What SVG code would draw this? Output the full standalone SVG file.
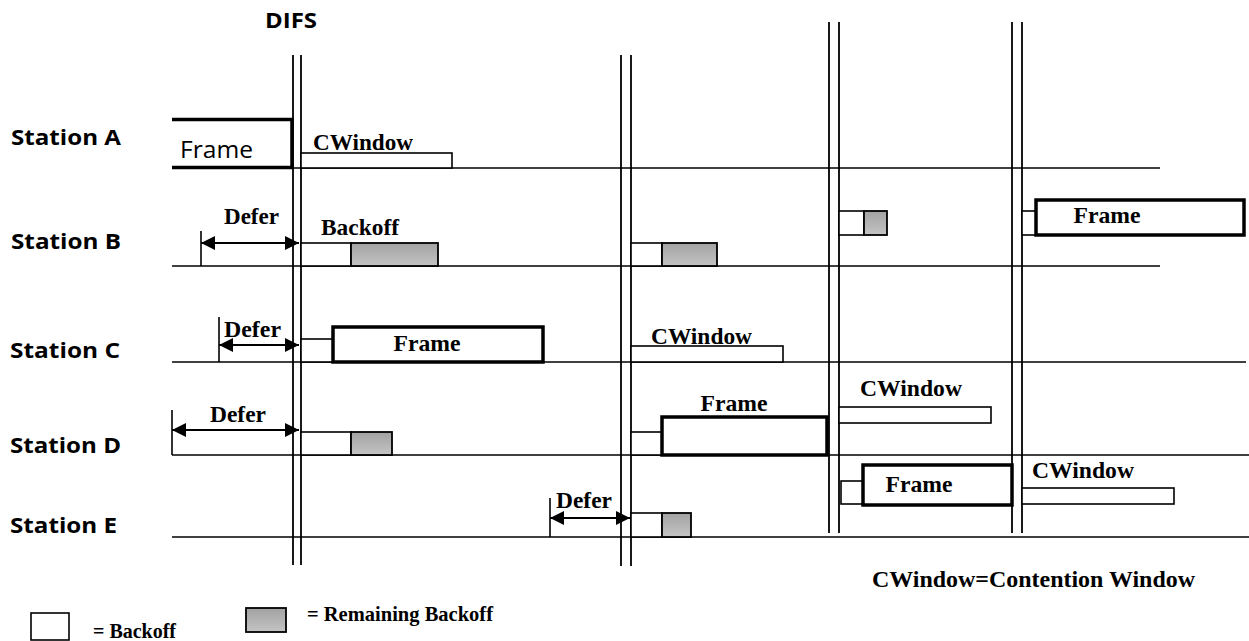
<svg xmlns="http://www.w3.org/2000/svg" width="1249" height="641" viewBox="0 0 1249 641">
<style>
.bg{fill:#ffffff}
.ln{stroke:#000;stroke-width:1.6;fill:none}
.vl{stroke:#000;stroke-width:1.8;fill:none}
.bo{fill:#fff;stroke:#000;stroke-width:1.6}
.rb{fill:url(#gray);stroke:#000;stroke-width:1.8}
.fr{fill:#fff;stroke:#000;stroke-width:3.5}
.st{font-family:"Open Sans","Liberation Sans",sans-serif;font-weight:bold;font-size:22px;fill:#000}
.tb{font-family:"Liberation Serif","Times New Roman",serif;font-weight:bold;font-size:23px;fill:#000}
.lg{font-family:"Liberation Serif","Times New Roman",serif;font-weight:bold;font-size:22px;fill:#000}
.ar{stroke:#000;stroke-width:2.2;fill:none;marker-start:url(#ah);marker-end:url(#ah)}
</style>
<defs>
<linearGradient id="gray" x1="0" y1="0" x2="0" y2="1">
<stop offset="0" stop-color="#a2a2a2"/>
<stop offset="1" stop-color="#c4c4c4"/>
</linearGradient>
<marker id="ah" markerUnits="userSpaceOnUse" markerWidth="15" markerHeight="15" refX="14" refY="7.5" orient="auto-start-reverse">
<path d="M0,0.5 L14,7.5 L0,14.5 z" fill="#000"/>
</marker>
</defs>
<rect class="bg" x="0" y="0" width="1249" height="641"/>

<g id="difs-lines">
<text class="st" x="265" y="28" textLength="52" lengthAdjust="spacingAndGlyphs">DIFS</text>
<line class="vl" x1="293" y1="55" x2="293" y2="565"/>
<line class="vl" x1="301" y1="55" x2="301" y2="565"/>
<line class="vl" x1="621" y1="55" x2="621" y2="566"/>
<line class="vl" x1="631" y1="55" x2="631" y2="566"/>
<line class="vl" x1="829" y1="22" x2="829" y2="533"/>
<line class="vl" x1="839" y1="22" x2="839" y2="533"/>
<line class="vl" x1="1012" y1="22" x2="1012" y2="533"/>
<line class="vl" x1="1022" y1="22" x2="1022" y2="533"/>
</g>

<g id="station-a">
<text class="st" x="11" y="145" textLength="110" lengthAdjust="spacingAndGlyphs">Station A</text>
<line class="ln" x1="172" y1="168" x2="1160" y2="168"/>
<path d="M172,119.5 H292 V167.5 H172" fill="none" stroke="#000" stroke-width="3.5"/>
<text x="180" y="158" font-family="'Open Sans','Liberation Sans',sans-serif" font-size="24" textLength="73" lengthAdjust="spacingAndGlyphs">Frame</text>
<rect class="bo" x="301" y="153" width="151" height="15"/>
<text class="tb" x="313" y="150" textLength="100" lengthAdjust="spacingAndGlyphs">CWindow</text>
</g>

<g id="station-b">
<text class="st" x="11" y="249" textLength="110" lengthAdjust="spacingAndGlyphs">Station B</text>
<line class="ln" x1="172" y1="266" x2="1160" y2="266"/>
<line class="ln" x1="201" y1="231" x2="201" y2="266"/>
<text class="tb" x="224" y="224" textLength="55" lengthAdjust="spacingAndGlyphs">Defer</text>
<rect class="bo" x="301" y="243" width="50" height="23"/>
<rect class="rb" x="351" y="243" width="87" height="23"/>
<text class="tb" x="321" y="235" textLength="78" lengthAdjust="spacingAndGlyphs">Backoff</text>
<rect class="bo" x="631" y="243" width="31" height="23"/>
<rect class="rb" x="662" y="243" width="55" height="23"/>
<rect class="bo" x="839" y="211" width="25" height="24"/>
<rect class="rb" x="864" y="211" width="23" height="24"/>
<rect class="bo" x="1022" y="211" width="14" height="24"/>
<rect class="fr" x="1036" y="200" width="208" height="35"/>
<text class="tb" x="1107" y="223" text-anchor="middle" textLength="67" lengthAdjust="spacingAndGlyphs">Frame</text>
</g>

<g id="station-c">
<text class="st" x="10" y="358" textLength="110" lengthAdjust="spacingAndGlyphs">Station C</text>
<line class="ln" x1="172" y1="362" x2="1246" y2="362"/>
<line class="ln" x1="219" y1="317" x2="219" y2="362"/>
<text class="tb" x="224" y="337" textLength="57" lengthAdjust="spacingAndGlyphs">Defer</text>
<rect class="bo" x="301" y="339" width="32" height="23"/>
<rect class="fr" x="333" y="327" width="210" height="35"/>
<text class="tb" x="427" y="351" text-anchor="middle" textLength="67" lengthAdjust="spacingAndGlyphs">Frame</text>
<rect class="bo" x="631" y="346" width="152" height="16"/>
<text class="tb" x="651" y="344" textLength="101" lengthAdjust="spacingAndGlyphs">CWindow</text>
</g>

<g id="station-d">
<text class="st" x="10" y="453" textLength="111" lengthAdjust="spacingAndGlyphs">Station D</text>
<line class="ln" x1="172" y1="455" x2="1249" y2="455"/>
<line class="ln" x1="172" y1="410" x2="172" y2="455"/>
<text class="tb" x="210" y="422" textLength="56" lengthAdjust="spacingAndGlyphs">Defer</text>
<rect class="bo" x="301" y="432" width="50" height="23"/>
<rect class="rb" x="351" y="432" width="41" height="23"/>
<rect class="bo" x="631" y="432" width="31" height="23"/>
<rect class="fr" x="662" y="417" width="165" height="38"/>
<text class="tb" x="734" y="411" text-anchor="middle" textLength="67" lengthAdjust="spacingAndGlyphs">Frame</text>
<rect class="bo" x="839" y="407" width="152" height="16"/>
<text class="tb" x="860" y="396" textLength="102" lengthAdjust="spacingAndGlyphs">CWindow</text>
</g>

<g id="station-e">
<text class="st" x="10" y="533" textLength="107" lengthAdjust="spacingAndGlyphs">Station E</text>
<line class="ln" x1="172" y1="537" x2="1249" y2="537"/>
<line class="ln" x1="550" y1="498" x2="550" y2="537"/>
<text class="tb" x="556" y="508" textLength="56" lengthAdjust="spacingAndGlyphs">Defer</text>
<rect class="bo" x="631" y="513" width="31" height="24"/>
<rect class="rb" x="662" y="513" width="29" height="24"/>
<rect class="bo" x="841" y="481" width="22" height="23"/>
<rect class="fr" x="863" y="465" width="149" height="40"/>
<text class="tb" x="919" y="492" text-anchor="middle" textLength="67" lengthAdjust="spacingAndGlyphs">Frame</text>
<rect class="bo" x="1022" y="488" width="152" height="16"/>
<text class="tb" x="1032" y="478" textLength="102" lengthAdjust="spacingAndGlyphs">CWindow</text>
</g>

<g id="connectors">
<line class="ar" x1="201" y1="243" x2="299" y2="243"/>
<line class="ar" x1="219" y1="345" x2="299" y2="345"/>
<line class="ar" x1="172" y1="430" x2="299" y2="430"/>
<line class="ar" x1="550" y1="518" x2="630" y2="518"/>
</g>

<g id="legend">
<text class="tb" x="872" y="587" textLength="323" lengthAdjust="spacingAndGlyphs">CWindow=Contention Window</text>
<rect class="bo" x="31" y="613" width="38" height="27"/>
<text class="lg" x="93" y="638" textLength="83" lengthAdjust="spacingAndGlyphs">=  Backoff</text>
<rect class="rb" x="246" y="608" width="40" height="24"/>
<text class="lg" x="307" y="621" textLength="186" lengthAdjust="spacingAndGlyphs">=  Remaining Backoff</text>
</g>
</svg>
